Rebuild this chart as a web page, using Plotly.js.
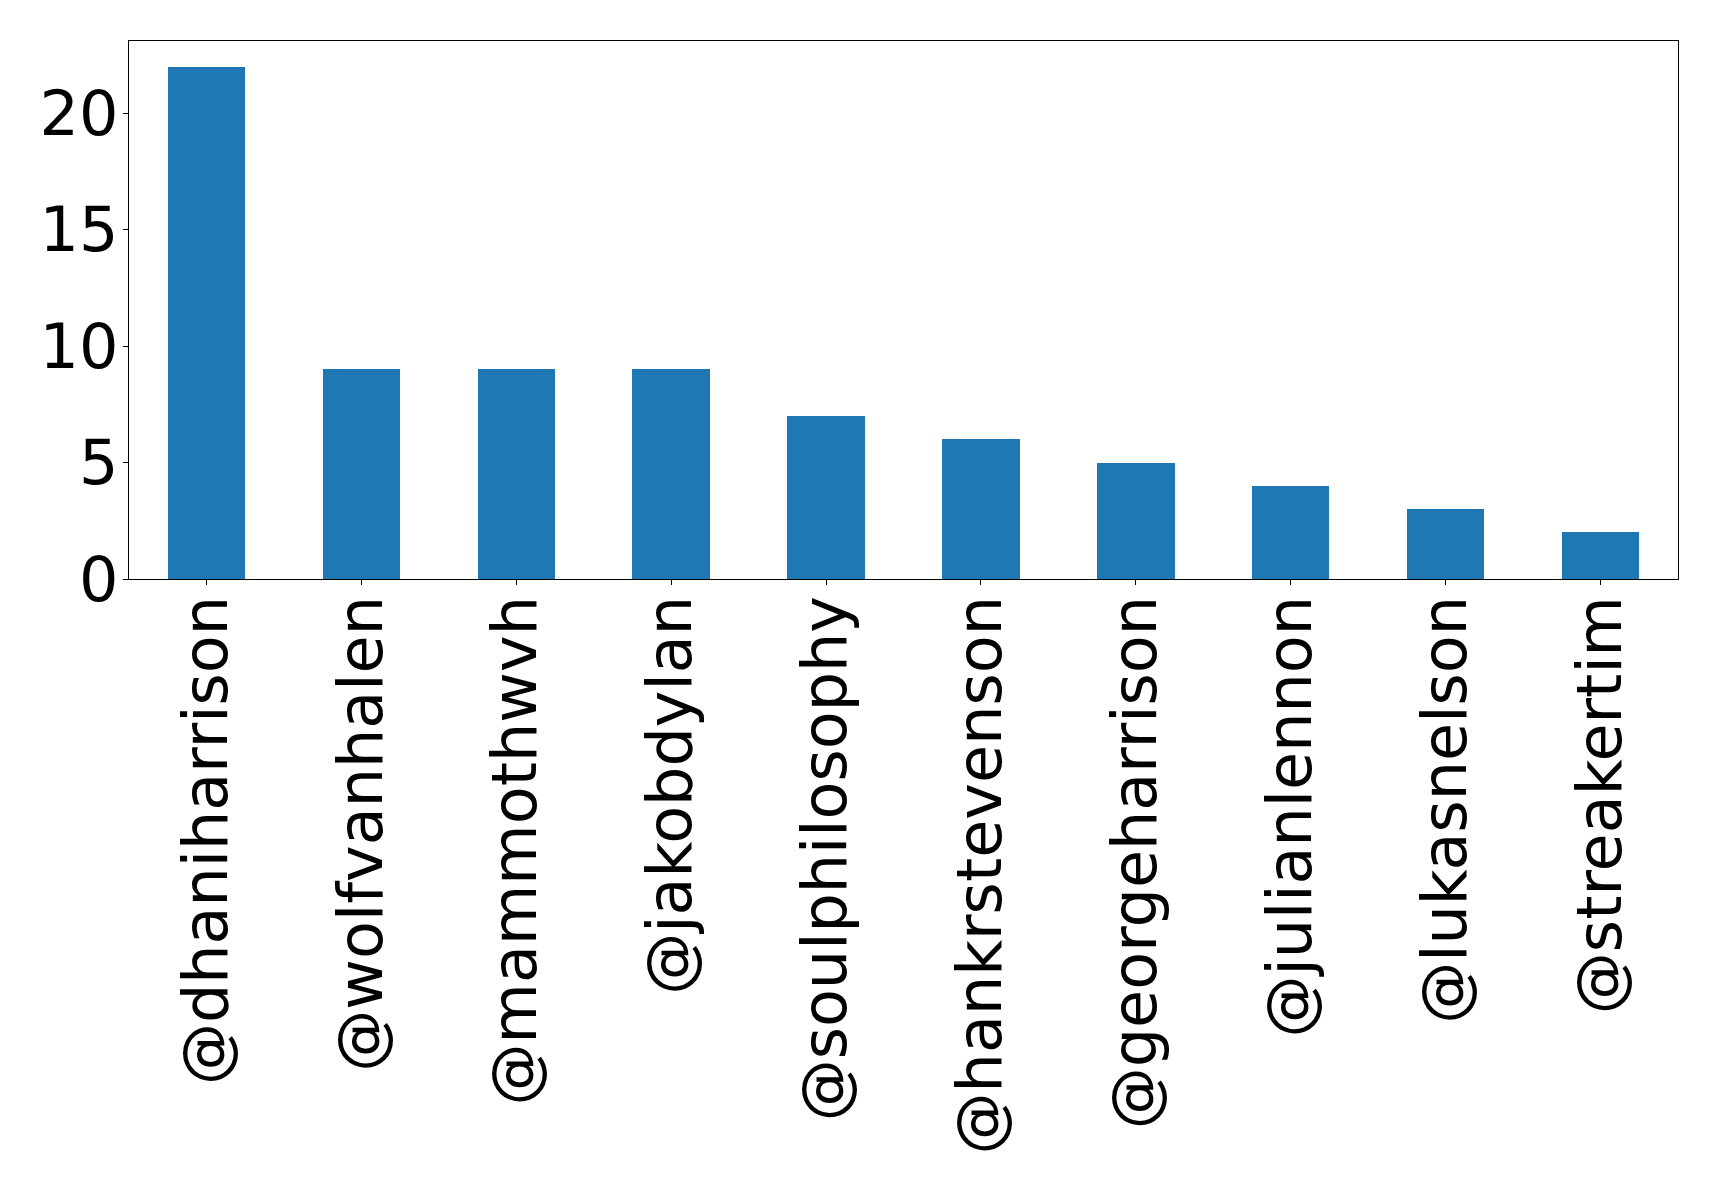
<!DOCTYPE html>
<html>
<head>
<meta charset="utf-8">
<script src="https://cdn.plot.ly/plotly-3.0.1.min.js"></script>
<style>
  html, body { margin: 0; padding: 0; background: #ffffff; }
  #chart { width: 1719px; height: 1191px; }
</style>
</head>
<body>
<div id="chart"></div>
<script>
// Accounts and their counts
const accounts = [
  "@dhaniharrison", "@wolfvanhalen", "@mammothwvh", "@jakobdylan",
  "@soulphilosophy", "@hankrstevenson", "@georgeharrison", "@julianlennon",
  "@lukasnelson", "@streakertim"
];
const counts = [22, 9, 9, 9, 7, 6, 5, 4, 3, 2];
const yTicks = [0, 5, 10, 15, 20];

const fontFamily = "DejaVu Sans, sans-serif";

const trace = {
  type: "bar",
  x: accounts.map((_, i) => i),
  y: counts,
  width: 0.5,
  marker: { color: "#1f77b4", line: { width: 0 } },
  hoverinfo: "skip"
};

const layout = {
  width: 1719,
  height: 1191,
  margin: { l: 129, r: 41, t: 41, b: 612, pad: 0 },
  paper_bgcolor: "#ffffff",
  plot_bgcolor: "#ffffff",
  showlegend: false,
  bargap: 0,
  xaxis: {
    range: [-0.5, 9.5],
    tickmode: "array",
    tickvals: accounts.map((_, i) => i),
    ticktext: accounts,
    tickangle: -90,
    ticks: "outside",
    ticklen: 5,
    tickwidth: 1,
    tickcolor: "#000000",
    ticklabelstandoff: -14,
    showline: true,
    linecolor: "#000000",
    linewidth: 1.2,
    mirror: true,
    showgrid: false,
    zeroline: false,
    fixedrange: true,
    tickfont: { family: fontFamily, size: 62, color: "#000000" }
  },
  yaxis: {
    range: [0, 23.1],
    tickmode: "array",
    tickvals: yTicks,
    ticktext: yTicks.map(String),
    ticks: "outside",
    ticklen: 5,
    tickwidth: 1,
    tickcolor: "#000000",
    ticklabelstandoff: -8,
    showline: true,
    linecolor: "#000000",
    linewidth: 1.2,
    mirror: true,
    showgrid: false,
    zeroline: false,
    fixedrange: true,
    tickfont: { family: fontFamily, size: 62, color: "#000000" }
  }
};

Plotly.newPlot("chart", [trace], layout, { staticPlot: true, displayModeBar: false });
</script>
</body>
</html>
